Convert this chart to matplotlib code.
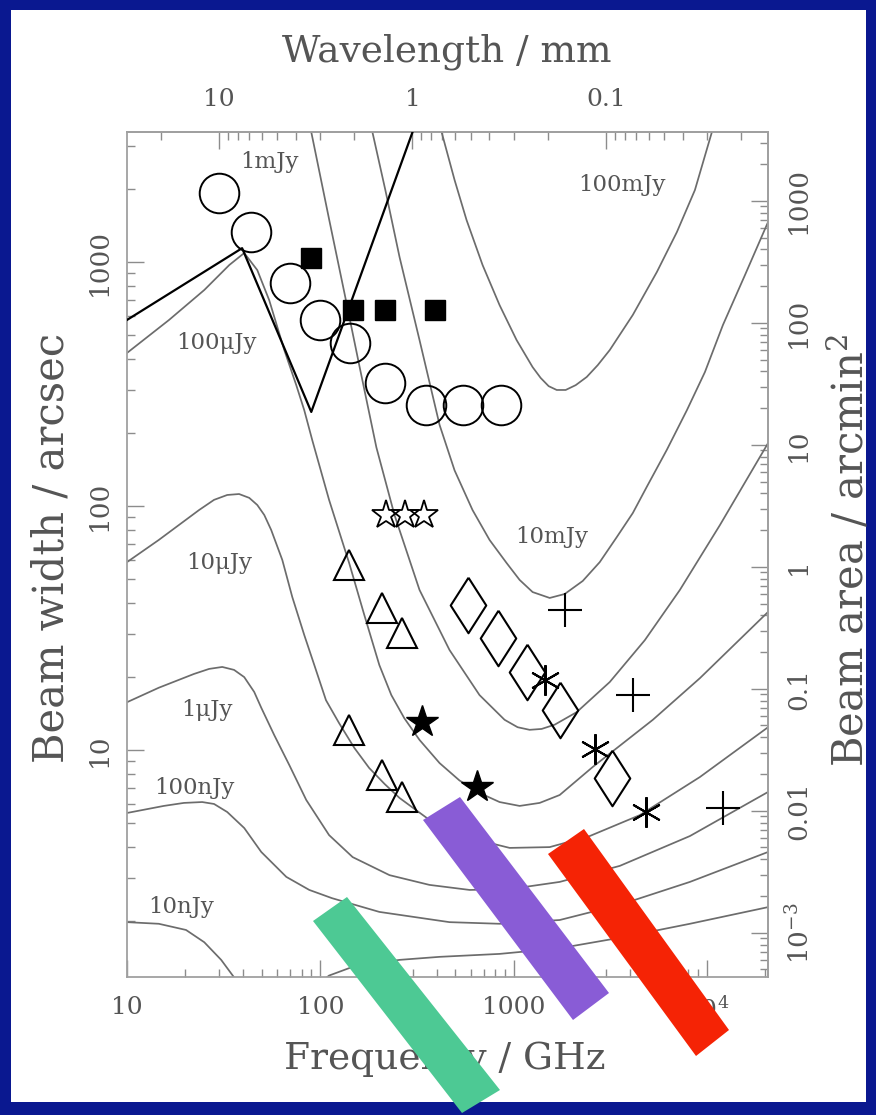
import numpy as np
import matplotlib
matplotlib.use("Agg")
import matplotlib.pyplot as plt
from matplotlib.patches import Polygon, Rectangle
from matplotlib.ticker import FuncFormatter, NullFormatter

plt.rcParams['font.family'] = 'DejaVu Serif'
plt.rcParams['mathtext.fontset'] = 'dejavuserif'

# flux-density contours: frequency (GHz) vs beam width (arcsec)
nu_100mJy = [424, 495, 571, 691, 846, 1036, 1254, 1380, 1518, 1671, 1859, 2096, 2389, 2724, 3144, 4136,
             5508, 6992, 8667, 10610]
bw_100mJy = [3410, 2169, 1486, 972, 666, 479, 371, 335, 310, 299, 299, 313, 338, 378, 436, 607,
             910, 1327, 1973, 3410]

nu_10mJy = [186, 217, 257, 326, 414, 495, 613, 751, 920, 1074, 1254, 1537, 1838, 2278, 2790, 3418,
            4136, 4889, 6204, 7876, 9763, 12100, 15740, 20710]
bw_10mJy = [3410, 1973, 1048, 479, 215, 140, 96.3, 72.6, 58.4, 49.8, 44.4, 42.0, 43.6, 49.3, 58.9, 74.6,
            93.6, 120, 170, 247, 354, 552, 885, 1459]

nu_1mJy = [89.8, 111, 133, 159, 195, 242, 326, 466, 666, 898, 1049, 1210, 1396, 1631, 2121, 3144, 4773,
           7246, 11680, 20710]
bw_1mJy = [3410, 1500, 753, 378, 174, 91.9, 45.3, 25.7, 16.8, 13.3, 12.4, 12.1, 12.2, 12.7, 14.3, 19.0, 28.2,
           45.3, 83.6, 181]

nu_100uJy = [10, 16.5, 25.1, 33.8, 40.4, 47.2, 54.4, 65.1, 75.1, 82.6, 90.9, 111, 141, 169, 202, 233, 272,
             326, 414, 525, 666, 846, 1074, 1364, 1731, 2566, 5251, 9198, 20710]
bw_100uJy = [424, 579, 768, 972, 1089, 927, 698, 436, 313, 247, 186, 106, 58.4, 35.7, 22.3, 16.8, 13.5,
             11.0, 8.84, 7.50, 6.67, 6.12, 5.90, 6.07, 6.54, 8.52, 13.3, 19.7, 36.8]

nu_10uJy = [10, 14.6, 23.6, 28.2, 33.0, 38.0, 42.9, 47.2, 51.3, 55.7, 63.6, 71.6, 82.6, 93.1, 107, 125, 150,
            179, 215, 257, 367, 592, 954, 1537, 2476, 4497, 9198, 20710]
bw_10uJy = [58.9, 72.6, 96.3, 106, 111, 112, 108, 101, 91.9, 79.8, 60.1, 42.4, 29.6, 22.3, 16.0, 12.9, 10.2,
            8.44, 7.26, 6.36, 5.17, 4.36, 3.97, 4.00, 4.44, 5.41, 7.75, 12.4]

nu_1uJy = [10, 14.6, 22.2, 26.6, 31.1, 35.8, 40.4, 45.5, 49.5, 57.8, 69.1, 84.6, 111, 147, 228, 367, 592,
           954, 1731, 3541, 8166, 20710]
bw_1uJy = [15.7, 18.0, 20.5, 21.5, 21.9, 21.3, 19.9, 17.3, 14.9, 11.5, 8.68, 6.24, 4.48, 3.64, 3.07, 2.80, 2.67,
           2.69, 2.88, 3.35, 4.44, 6.73]

nu_100nJy = [10, 15.5, 19.7, 24.5, 28.2, 33.0, 40.4, 49.5, 66.7, 87.7, 115, 202, 466, 846, 1731, 3541, 8166,
             20710]
bw_100nJy = [5.52, 5.90, 6.07, 6.12, 6.01, 5.57, 4.79, 3.82, 3.02, 2.67, 2.47, 2.17, 1.97, 1.94, 2.01, 2.32, 2.88,
             3.82]

nu_10nJy = [10, 14.6, 20.2, 25.1, 30.7, 35.8, 48.3, 77.8, 96.5, 111, 150, 257, 414, 846, 1731, 3541, 8166, 20710]
bw_10nJy = [1.97, 1.94, 1.83, 1.63, 1.38, 1.17, 0.945, 0.945, 1.09, 1.19, 1.30, 1.38, 1.42, 1.46, 1.54, 1.70,
            1.94, 2.27]

# black zig-zag line
nu_vline = [10, 39.4, 89.8, 300]
bw_vline = [579, 1140, 243, 3410]

# instruments (markers)
circ_nu = [30, 44, 70, 100, 143, 217, 353, 545, 857]
circ_bw = [1920, 1330, 820, 580, 465, 320, 260, 260, 260]
sq_nu = [90, 147, 215, 390]
sq_bw = [1040, 635, 635, 635]
ostar_nu = [220, 275, 342]
ostar_bw = [92, 92, 92]
tri_nu = [141, 209, 266, 141, 209, 266]
tri_bw = [57.3, 38.2, 30.2, 12.1, 7.9, 6.4]
fstar_nu = [337, 650]
fstar_bw = [13.0, 7.05]
dia_nu = [578, 826, 1167, 1730, 3220]
dia_bw = [39.3, 28.8, 20.9, 14.6, 7.67]
plus_nu = [1837, 4140, 12100]
plus_bw = [37.5, 16.8, 5.78]
ast_nu = [1449, 2630, 4830]
ast_bw = [19.4, 10.1, 5.57]

curve_labels = ['1mJy', '100\u03bcJy', '100mJy', '10\u03bcJy', '10mJy', '1\u03bcJy', '100nJy', '10nJy']
label_nu = [54.4, 28.9, 3627, 30.0, 1574, 26.0, 22.2, 19.1]
label_bw = [2570, 466, 2068, 58.4, 74.6, 14.6, 6.99, 2.27]

W, H = 876, 1115
grey = '#555555'
tick_grey = '#8c8c8c'

fig = plt.figure(figsize=(W / 100, H / 100), dpi=100, facecolor='#0a1890')
fig.add_artist(Rectangle((11 / W, 1 - 1102 / H), (866 - 11) / W, (1102 - 10) / H,
                         transform=fig.transFigure, facecolor='white', edgecolor='none', zorder=-1))

ax = fig.add_axes([127 / W, 1 - 977 / H, (768 - 127) / W, (977 - 132) / H])
ax.set_facecolor('none')
ax.set_xscale('log')
ax.set_yscale('log')
ax.set_xlim(10, 20700)
ax.set_ylim(1.174, 3412)

curves = [(nu_100mJy, bw_100mJy), (nu_10mJy, bw_10mJy), (nu_1mJy, bw_1mJy), (nu_100uJy, bw_100uJy),
          (nu_10uJy, bw_10uJy), (nu_1uJy, bw_1uJy), (nu_100nJy, bw_100nJy), (nu_10nJy, bw_10nJy)]
for nu, bw in curves:
    ax.plot(nu, bw, color='#6c6c6c', lw=1.25, zorder=2, solid_joinstyle='round')

ax.plot(nu_vline, bw_vline, color='black', lw=1.6, zorder=3)

tall_diamond = [(0, 1), (0.64, 0), (0, -1), (-0.64, 0), (0, 1)]

mk = dict(linestyle='none', color='black', zorder=4)
ax.plot(circ_nu, circ_bw, marker='o', ms=28.5, mfc='none', mew=1.4, **mk)
ax.plot(sq_nu, sq_bw, marker='s', ms=14, **mk)
ax.plot(ostar_nu, ostar_bw, marker='*', ms=21, mfc='none', mew=1.3, **mk)
ax.plot(tri_nu, tri_bw, marker='^', ms=22, mfc='none', mew=1.5, **mk)
ax.plot(fstar_nu, fstar_bw, marker='*', ms=24, **mk)
ax.plot(dia_nu, dia_bw, marker=tall_diamond, ms=40, mfc='none', mew=1.5, **mk)
ax.plot(plus_nu, plus_bw, marker='+', ms=25, mew=1.5, **mk)
ax.plot(ast_nu, ast_bw, marker=(6, 2, 0), ms=22, mew=1.5, **mk)

for txt, x, y in zip(curve_labels, label_nu, label_bw):
    ax.text(x, y, txt, fontsize=16.5, color=grey, ha='center', va='center', zorder=5)


def make_fmt(lo, hi):
    def fmt(v, pos):
        if v <= 0 or v < lo or v > hi:
            return ''
        e = np.log10(v)
        if abs(e - round(e)) > 1e-6:
            return ''
        e = int(round(e))
        if -2 <= e <= 3:
            return '%g' % v
        return r'$10^{%d}$' % e
    return FuncFormatter(fmt)


def ghz_to_mm(x):
    with np.errstate(divide='ignore'):
        return 299.792458 / np.asarray(x, float)


def bw_to_area(b):
    return 1.1331 * (np.asarray(b, float) / 60.0) ** 2


def area_to_bw(a):
    return 60.0 * np.sqrt(np.abs(np.asarray(a, float)) / 1.1331)


secx = ax.secondary_xaxis('top', functions=(ghz_to_mm, ghz_to_mm))
secy = ax.secondary_yaxis('right', functions=(bw_to_area, area_to_bw))

for a in (ax, secx, secy):
    a.tick_params(which='both', direction='in', color=tick_grey, labelcolor=grey, width=1)
    a.tick_params(which='major', length=12)
    a.tick_params(which='minor', length=6)
    for sp in a.spines.values():
        sp.set_color('#a0a0a0')
        sp.set_linewidth(1.3)

ax.tick_params(top=False, right=False)
ax.tick_params(axis='x', pad=14, labelsize=18)
ax.tick_params(axis='y', pad=11, labelrotation=90, labelsize=19)
secx.tick_params(axis='x', pad=15, labelsize=18)
secy.tick_params(axis='y', pad=13, labelrotation=90, labelsize=19)

ax.xaxis.set_major_formatter(make_fmt(10, 20700))
ax.yaxis.set_major_formatter(make_fmt(1.17, 3412))
secx.xaxis.set_major_formatter(make_fmt(0.0145, 30))
secy.yaxis.set_major_formatter(make_fmt(4.3e-4, 3660))
for axis in (ax.xaxis, ax.yaxis, secx.xaxis, secy.yaxis):
    axis.set_minor_formatter(NullFormatter())

ax.set_xlabel('Frequency / GHz', fontsize=27, color=grey, va='center')
ax.xaxis.set_label_coords((445 - 127) / 641, (977 - 1060) / 845)
ax.set_ylabel('Beam width / arcsec', fontsize=30, color=grey, va='center')
ax.yaxis.set_label_coords((52 - 127) / 641, (977 - 548) / 845)
secx.set_xlabel('Wavelength / mm', fontsize=27, color=grey, va='center')
secx.xaxis.set_label_coords((447 - 127) / 641, (977 - 52) / 845, transform=ax.transAxes)
secy.set_ylabel('Beam area / arcmin$^2$', fontsize=30, color=grey, va='center')
secy.yaxis.set_label_coords((850 - 127) / 641, (977 - 550) / 845, transform=ax.transAxes)

fig.canvas.draw()
plt.setp(ax.get_yticklabels(), va='center')
plt.setp(secy.get_yticklabels(), va='center')

# coloured highlight bars drawn over the slide (pixel corners)
bars = [('#4dc994', [(313, 921), (347, 897), (500, 1090), (462, 1113)]),
        ('#895cd6', [(423, 820), (460, 797), (609, 993), (573, 1020)]),
        ('#f52305', [(548, 854), (584, 829), (729, 1030), (696, 1056)])]
for col, pts in bars:
    fig.add_artist(Polygon([(x / W, 1 - y / H) for x, y in pts], closed=True,
                           transform=fig.transFigure, facecolor=col, edgecolor='none', zorder=10))

fig.savefig('out.png', dpi=100, facecolor=fig.get_facecolor())
